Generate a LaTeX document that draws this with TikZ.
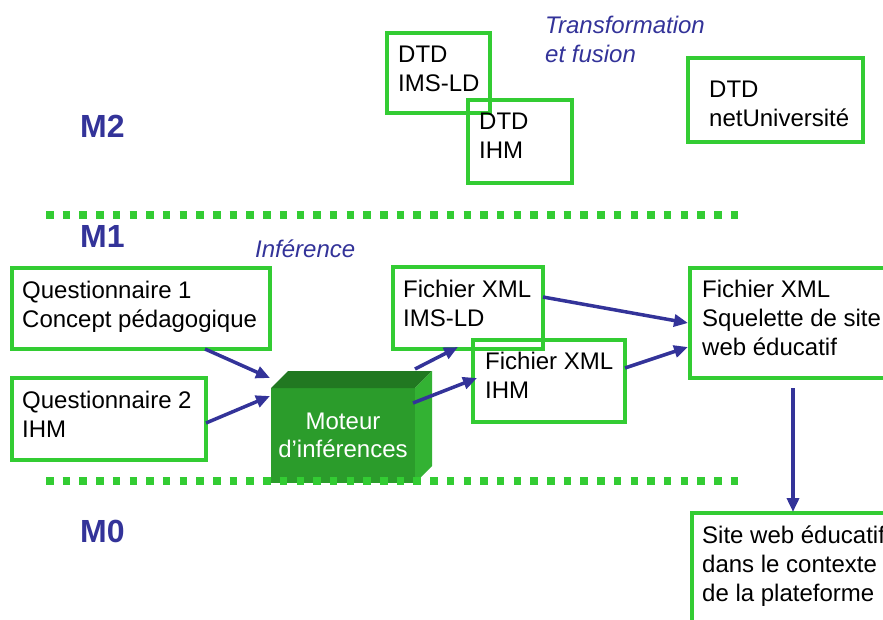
\documentclass[tikz,border=0pt]{standalone}
\usepackage{fontspec}
\setmainfont{Liberation Sans}
\usetikzlibrary{arrows.meta,calc}

\newlength{\du}
\setlength{\du}{1pt}

\definecolor{cadrecolor}{rgb}{0.200000, 0.800000, 0.200000}
\definecolor{flechecolor}{rgb}{0.200000, 0.200000, 0.600000}
\definecolor{cubefront}{rgb}{0.170000, 0.610000, 0.170000}
\definecolor{cubetop}{rgb}{0.130000, 0.470000, 0.130000}
\definecolor{cubeside}{rgb}{0.200000, 0.700000, 0.200000}

\tikzset{
  cadre/.style={draw=cadrecolor, line width=3.5\du, anchor=north west, inner sep=0pt, outer sep=0pt},
  texte/.style={anchor=base west, align=left, inner sep=0pt, text=black, font=\fontsize{24}{29}\selectfont},
  niveau/.style={anchor=base west, inner sep=0pt, text=flechecolor, font=\fontsize{32}{38}\selectfont\bfseries},
  remarque/.style={anchor=base west, align=left, inner sep=0pt, text=flechecolor, font=\fontsize{24}{29}\selectfont\itshape},
  fleche/.style={draw=flechecolor, line width=3.5\du, -{Triangle[length=14pt,width=12pt]}},
  pointilles/.style={draw=cadrecolor, line width=7.5\du, dash pattern=on 7.5pt off 9.2pt}
}

\begin{document}
\begin{tikzpicture}
\pgftransformxscale{1.000000}
\pgftransformyscale{-1.000000}
\useasboundingbox (0\du,0\du) rectangle (883\du,619\du);
\clip (0\du,0\du) rectangle (883\du,619\du);

% niveaux
\node[niveau] (m2) at (80\du,137\du) {M2};
\node[niveau] (m1) at (80\du,247\du) {M1};
\node[niveau] (m0) at (80\du,542\du) {M0};

% separations
\coordinate (sep1a) at (46\du,215\du);
\coordinate (sep1b) at (740\du,215\du);
\coordinate (sep0a) at (46\du,481\du);
\coordinate (sep0b) at (740\du,481\du);

% M2 (base = last line)
\node[remarque] (transfo) at (545\du,62\du) {Transformation\\et fusion};
\node[cadre, minimum width=103\du, minimum height=80\du] (dtdims) at (387\du,33\du) {};
\node[texte] (dtdims-txt) at ($(dtdims.north west)+(11\du,58\du)$) {DTD\\IMS-LD};
\node[cadre, minimum width=104\du, minimum height=83\du] (dtdihm) at (468\du,100\du) {};
\node[texte] (dtdihm-txt) at ($(dtdihm.north west)+(11\du,58\du)$) {DTD\\IHM};
\node[cadre, minimum width=175\du, minimum height=84\du] (dtdnet) at (688\du,58\du) {};
\node[texte] (dtdnet-txt) at ($(dtdnet.north west)+(21\du,68\du)$) {DTD\\netUniversité};

% M1
\node[remarque] (inference) at (255\du,257\du) {Inférence};
\node[cadre, minimum width=258\du, minimum height=81\du] (q1) at (12\du,268\du) {};
\node[texte] (q1-txt) at ($(q1.north west)+(10\du,59\du)$) {Questionnaire 1\\Concept pédagogique};
\node[cadre, minimum width=194\du, minimum height=82\du] (q2) at (12\du,378\du) {};
\node[texte] (q2-txt) at ($(q2.north west)+(10\du,59\du)$) {Questionnaire 2\\IHM};

% moteur (cube)
\node[fill=cubefront, minimum width=144\du, minimum height=95\du, anchor=north west, inner sep=0pt, outer sep=0pt,
      align=center, text=white, font=\fontsize{24}{28}\selectfont] (mot) at (271\du,388\du) {Moteur\\d’inférences};
\fill[cubetop] (mot.north west) -- ++(17\du,-17\du) -- ($(mot.north east)+(17\du,-17\du)$) -- (mot.north east) -- cycle;
\fill[cubeside] (mot.north east) -- ++(17\du,-17\du) -- ($(mot.south east)+(17\du,-17\du)$) -- (mot.south east) -- cycle;

\node[cadre, minimum width=150\du, minimum height=82\du] (fi) at (393\du,267\du) {};
\node[texte] (fi-txt) at ($(fi.north west)+(10\du,59\du)$) {Fichier XML\\IMS-LD};
\node[cadre, minimum width=152\du, minimum height=82\du] (fh) at (473\du,340\du) {};
\node[texte] (fh-txt) at ($(fh.north west)+(12\du,58\du)$) {Fichier XML\\IHM};
\node[cadre, minimum width=230\du, minimum height=110\du] (sq) at (690\du,268\du) {};
\node[texte] (sq-txt) at ($(sq.north west)+(12\du,87\du)$) {Fichier XML\\Squelette de site\\web éducatif};

% M0
\node[cadre, minimum width=230\du, minimum height=130\du] (site) at (692\du,513\du) {};
\node[texte] (site-txt) at ($(site.north west)+(10\du,88\du)$) {Site web éducatif\\dans le contexte\\de la plateforme};

\draw[pointilles] (sep1a) -- (sep1b);
\draw[pointilles] (sep0a) -- (sep0b);

% fleches
\draw[fleche] ($(q1.south east)+(-65\du,0\du)$) -- ($(mot.north west)+(-1\du,-10\du)$);
\draw[fleche] ($(q2.east)+(0\du,4\du)$) -- ($(mot.north west)+(-1\du,8\du)$);
\draw[fleche] ($(mot.north east)+(0\du,-19\du)$) -- ($(fi.south west)+(65\du,-2\du)$);
\draw[fleche] ($(mot.north east)+(-2\du,15\du)$) -- ($(fh.north west)+(4\du,38\du)$);
\draw[fleche] ($(fi.north east)+(0\du,30\du)$) -- ($(sq.north west)+(-2\du,55\du)$);
\draw[fleche] ($(fh.north east)+(0\du,28\du)$) -- ($(sq.north west)+(-2\du,79\du)$);
\draw[fleche] ($(sq.south west)+(103\du,10\du)$) -- ($(site.north west)+(101\du,-1\du)$);
\end{tikzpicture}
\end{document}
